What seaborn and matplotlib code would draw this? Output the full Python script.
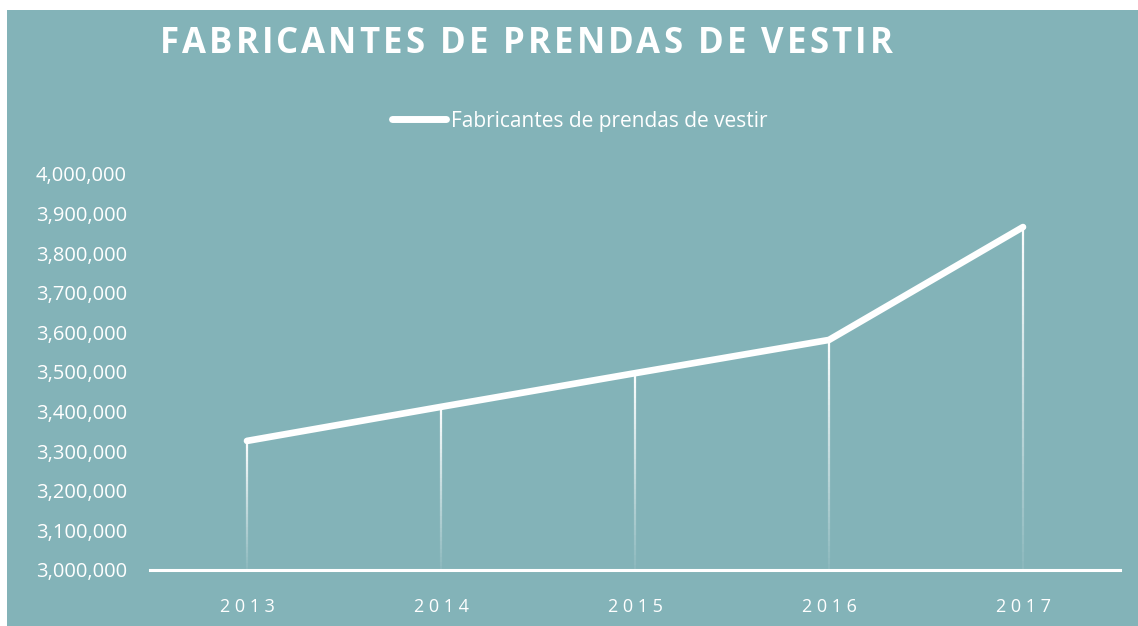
import numpy as np
import pandas as pd
import matplotlib
matplotlib.use("Agg")
import matplotlib.pyplot as plt
import seaborn as sns
from matplotlib.collections import LineCollection
from matplotlib.patches import Rectangle
from matplotlib.ticker import FuncFormatter

years = ["2013", "2014", "2015", "2016", "2017"]
fabricantes = [3326000, 3412000, 3497000, 3581000, 3866000]
serie = "Fabricantes de prendas de vestir"
titulo = "FABRICANTES DE PRENDAS DE VESTIR"

bg = "#83b3b8"
sns.set_style("white")
plt.rcParams["font.family"] = ["Open Sans", "DejaVu Sans"]

df = pd.DataFrame({"year": years, "valor": fabricantes})
df["pos"] = np.arange(len(years))

fig = plt.figure(figsize=(11.38, 6.26), dpi=100)
fig.patch.set_facecolor(bg)
# white strips along the top and left edge
fig.patches.append(Rectangle((0, 1 - 10 / 626), 1, 10 / 626, transform=fig.transFigure,
                             facecolor="white", edgecolor="none"))
fig.patches.append(Rectangle((0, 0), 7 / 1138, 1, transform=fig.transFigure,
                             facecolor="white", edgecolor="none"))

ax = fig.add_axes([150 / 1138, 1 - 570 / 626, 970 / 1138, 396 / 626])
ax.set_facecolor("none")

# drop lines fading toward the axis
segs, alphas = [], []
for x, y in zip(df["pos"], df["valor"]):
    ys = np.linspace(3000000, y, 40)
    for i in range(len(ys) - 1):
        segs.append([(x, ys[i]), (x, ys[i + 1])])
        alphas.append(0.08 + 0.9 * (i / (len(ys) - 2)))
cols = [(1, 1, 1, a) for a in alphas]
ax.add_collection(LineCollection(segs, colors=cols, linewidths=1.6, zorder=2))

sns.lineplot(data=df, x="pos", y="valor", ax=ax, color="white", linewidth=4.8,
             label=serie, solid_capstyle="round", solid_joinstyle="round", zorder=3)

ax.set_xlim(-0.5, len(years) - 0.5)
ax.set_ylim(3000000, 4000000)
ax.set_xticks(df["pos"])
ax.set_xticklabels([" ".join(y) for y in years])
ax.set_yticks(np.arange(3000000, 4000001, 100000))
ax.yaxis.set_major_formatter(FuncFormatter(lambda v, p: f"{int(v):,}"))
ax.tick_params(axis="both", length=0, colors="white")
ax.tick_params(axis="y", pad=16.5, labelsize=14.5)
ax.tick_params(axis="x", pad=20, labelsize=13)
ax.set_xlabel("")
ax.set_ylabel("")
for s in ["top", "right", "left"]:
    ax.spines[s].set_visible(False)
ax.spines["bottom"].set_color("white")
ax.spines["bottom"].set_linewidth(2.2)
ax.spines["bottom"].set_zorder(4)

leg = ax.legend(loc="center", bbox_to_anchor=(580 / 1138, 1 - 121 / 626),
                bbox_transform=fig.transFigure, frameon=False, fontsize=15,
                handlelength=2.6, handletextpad=0.25, labelcolor="white")
for h in leg.get_lines():
    h.set_linewidth(5)
    h.set_solid_capstyle("round")

# letter-spaced title, placed one character at a time
renderer = fig.canvas.get_renderer()
spacing = 3.05
x0 = 160
for ch in titulo:
    t = fig.text(x0 / 1138, 1 - 40 / 626, ch, ha="left", va="baseline",
                 color="white", fontsize=25, fontweight="bold")
    t.set_y(1 - 53 / 626)
    w = t.get_window_extent(renderer).width if ch != " " else 9
    x0 += w + spacing

fig.savefig("out.png", dpi=100, facecolor=fig.get_facecolor())
